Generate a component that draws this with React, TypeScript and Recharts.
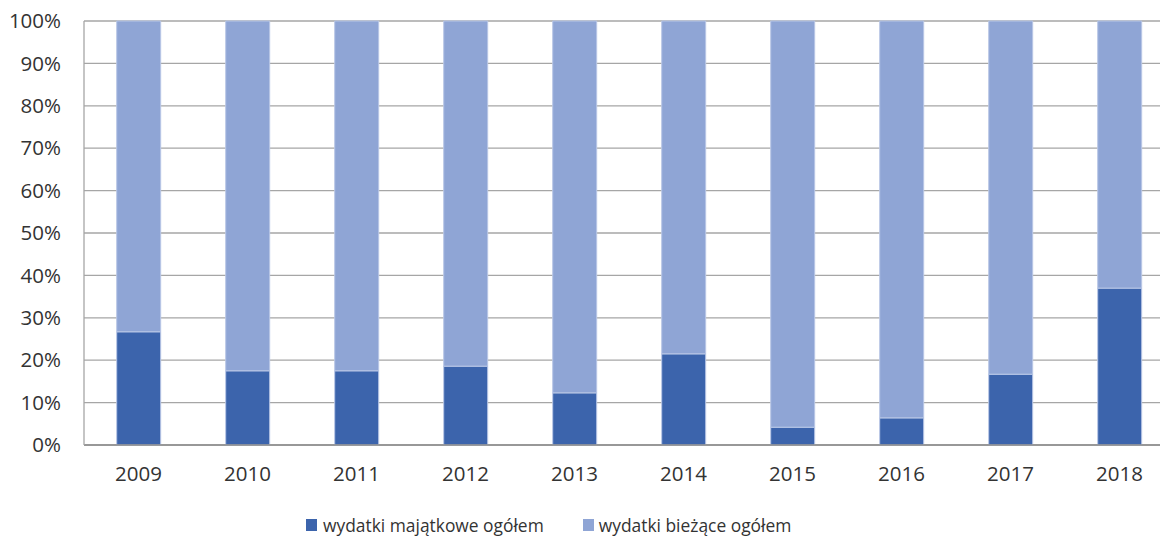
import React from "react";
import { BarChart, Bar, XAxis, YAxis, CartesianGrid } from "recharts";

const years = ["2009", "2010", "2011", "2012", "2013", "2014", "2015", "2016", "2017", "2018"];
const majatkowe = [26.7, 17.5, 17.5, 18.6, 12.3, 21.5, 4.2, 6.4, 16.7, 37.0];
const biezace = [73.3, 82.5, 82.5, 81.4, 87.7, 78.5, 95.8, 93.6, 83.3, 63.0];
const yTicks = [0, 10, 20, 30, 40, 50, 60, 70, 80, 90, 100];

const DARK = "#3c64ac";
const LIGHT = "#8fa5d5";
const FONT = "'Open Sans', 'Noto Sans', sans-serif";

const data = years.map((y, i) => ({ year: y, majatkowe: majatkowe[i], biezace: biezace[i] }));

export default function App() {
  return (
    <div style={{ position: "absolute", left: 0, top: 0, width: 1160, height: 539, overflow: "hidden", background: "#fff", fontFamily: FONT }}>
      <BarChart width={1180} height={539} data={data} margin={{ top: 21, right: 6, left: 0, bottom: 0 }} barCategoryGap="30%">
        <CartesianGrid vertical={false} stroke="#a6a6a6" strokeWidth={1.3} />
        <XAxis
          dataKey="year"
          height={94}
          stroke="#8c8c8c"
          strokeWidth={1.5}
          tickLine={false}
          tickSize={0}
          tickMargin={21}
          tick={{ fill: "#333", fontSize: 20.5, fontFamily: FONT }}
        />
        <YAxis
          width={84}
          domain={[0, 100]}
          ticks={yTicks}
          tickFormatter={(v) => `${v}%`}
          stroke="#a6a6a6"
          strokeWidth={1.3}
          tickLine={false}
          tickSize={0}
          tickMargin={23}
          interval={0}
          tick={{ fill: "#333", fontSize: 20.5, fontFamily: FONT }}
        />
        <Bar dataKey="majatkowe" stackId="a" fill={DARK} stroke="#b9c7e6" strokeWidth={1} isAnimationActive={false} />
        <Bar dataKey="biezace" stackId="a" fill={LIGHT} stroke="#b9c7e6" strokeWidth={1} isAnimationActive={false} />
      </BarChart>
      <div style={{ position: "absolute", top: 514, left: 306, display: "flex", alignItems: "center", fontSize: 17.4, lineHeight: "22px", color: "#333", whiteSpace: "nowrap" }}>
        <span style={{ width: 11, height: 12, background: DARK, display: "inline-block", marginRight: 6 }} />
        <span style={{ marginRight: 39 }}>wydatki majątkowe ogółem</span>
        <span style={{ width: 11, height: 12, background: LIGHT, display: "inline-block", marginRight: 5 }} />
        <span>wydatki bieżące ogółem</span>
      </div>
    </div>
  );
}
